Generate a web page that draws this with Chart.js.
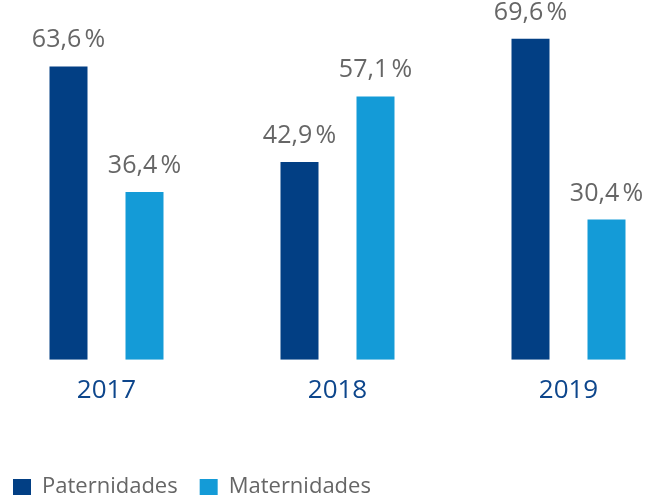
<!DOCTYPE html>
<html>
<head>
<meta charset="utf-8">
<script src="https://cdn.jsdelivr.net/npm/chart.js@4/dist/chart.umd.min.js"></script>
<style>
  html, body { margin: 0; padding: 0; background: #fff; overflow: hidden; }
  #wrap { position: absolute; left: -9px; top: 0; width: 693px; height: 508px; }
</style>
</head>
<body>
<div id="wrap"><canvas id="chart"></canvas></div>
<script>
const years = ['2017', '2018', '2019'];
const paternidades = [63.6, 42.9, 69.6];
const maternidades = [36.4, 57.1, 30.4];

const fmt = v => v.toFixed(1).replace('.', ',') + '\u202F%';

const valueLabels = {
    id: 'valueLabels',
    afterDatasetsDraw(chart) {
        const ctx = chart.ctx;
        ctx.save();
        ctx.font = '25px "Open Sans"';
        ctx.fillStyle = '#666666';
        ctx.textAlign = 'center';
        ctx.textBaseline = 'alphabetic';
        chart.data.datasets.forEach((ds, i) => {
            chart.getDatasetMeta(i).data.forEach((bar, j) => {
                ctx.fillText(fmt(ds.data[j]), bar.x, bar.y - 19);
            });
        });
        ctx.restore();
    }
};

new Chart(document.getElementById('chart'), {
    type: 'bar',
    data: {
        labels: years,
        datasets: [
            { label: 'Paternidades', data: paternidades, backgroundColor: '#023f84' },
            { label: 'Maternidades', data: maternidades, backgroundColor: '#149bd7' }
        ]
    },
    options: {
        responsive: true,
        maintainAspectRatio: false,
        animation: false,
        categoryPercentage: 0.658,
        barPercentage: 0.5,
        scales: {
            x: {
                grid: { display: false, drawTicks: false },
                border: { display: false },
                ticks: { color: '#0d468c', font: { family: 'Open Sans', size: 26 }, padding: 15 },
                afterFit(scale) { scale.height += 33; } // room between years and legend
            },
            y: { display: false, min: 0, max: 78 }
        },
        plugins: {
            legend: {
                position: 'bottom',
                align: 'start',
                labels: {
                    boxWidth: 18,
                    boxHeight: 16,
                    padding: 22,
                    color: '#666666',
                    font: { family: 'Open Sans', size: 22 }
                }
            },
            tooltip: { enabled: false }
        }
    },
    plugins: [valueLabels]
});
</script>
</body>
</html>
